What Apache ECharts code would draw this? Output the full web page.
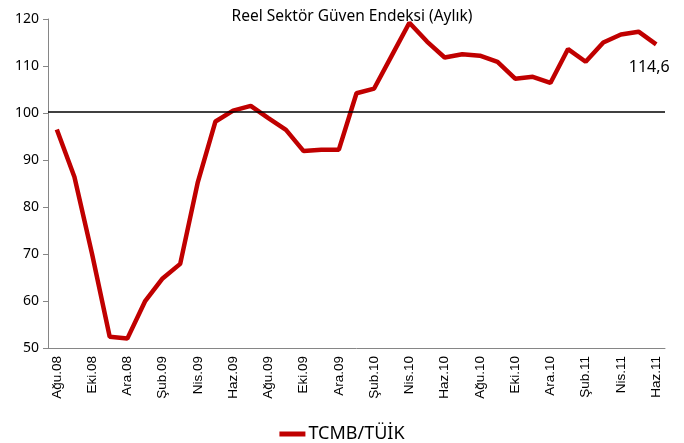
<html>
<head>
<meta charset="utf-8">
<script src="https://cdn.jsdelivr.net/npm/echarts@6/dist/echarts.min.js"></script>
</head>
<body style="margin:0">
<div id="chart" style="width: 684px; height: 443px;"></div>
<script>
var months = ['Ağu.08','Eyl.08','Eki.08','Kas.08','Ara.08','Oca.09','Şub.09','Mar.09','Nis.09','May.09','Haz.09','Tem.09',
    'Ağu.09','Eyl.09','Eki.09','Kas.09','Ara.09','Oca.10','Şub.10','Mar.10','Nis.10','May.10','Haz.10','Tem.10',
    'Ağu.10','Eyl.10','Eki.10','Kas.10','Ara.10','Oca.11','Şub.11','Mar.11','Nis.11','May.11','Haz.11']
var values = [96.5, 86.4, 70.0, 52.4, 52.0, 59.9, 64.8, 67.9, 85.3, 98.2, 100.5, 101.5,
    98.9, 96.4, 91.9, 92.2, 92.2, 104.2, 105.2, 112.2, 119.2, 115.2, 111.8, 112.5,
    112.2, 110.9, 107.3, 107.7, 106.4, 113.6, 110.9, 115.0, 116.7, 117.3, 114.6]
var refLevel = 100.3

var chart = echarts.init(document.getElementById('chart'))

var last = values.length - 1

var option = {
    animation: false,
    title: {
        text: 'Reel Sektör Güven Endeksi (Aylık)',
        left: 347,
        textAlign: 'center',
        top: 4,
        textStyle: { fontFamily: 'Noto Sans', fontSize: 15.5, fontWeight: 'normal', color: '#000' }
    },
    legend: {
        data: ['TCMB/TÜİK'],
        top: 420,
        left: 'center',
        icon: 'rect',
        itemWidth: 26,
        itemHeight: 5,
        itemGap: 2,
        textStyle: { fontFamily: 'Noto Sans', fontSize: 18, color: '#000', padding: [0, 0, 0, -2] }
    },
    grid: { left: 48, right: 19, top: 19, bottom: 95 },
    xAxis: {
        type: 'category',
        data: months,
        boundaryGap: true,
        axisLine: { lineStyle: { color: '#868686', width: 1 } },
        axisTick: { interval: 1, length: 5, lineStyle: { color: '#868686' } },
        axisLabel: {
            interval: 1,
            rotate: 90,
            margin: 8,
            fontFamily: 'Liberation Sans',
            fontSize: 13.5,
            color: '#000'
        }
    },
    yAxis: {
        type: 'value',
        min: 50,
        max: 120,
        interval: 10,
        splitLine: { show: false },
        axisLine: { show: true, lineStyle: { color: '#868686', width: 1 } },
        axisTick: { show: true, length: 5, lineStyle: { color: '#868686' } },
        axisLabel: { fontFamily: 'Noto Sans', fontSize: 14, color: '#000', margin: 9 }
    },
    series: [{
        name: 'TCMB/TÜİK',
        type: 'line',
        data: values,
        symbol: 'none',
        lineStyle: { color: '#C00000', width: 4.5 },
        itemStyle: { color: '#C00000' },
        markLine: {
            silent: true,
            symbol: 'none',
            label: { show: false },
            lineStyle: { color: '#000', type: 'solid', width: 1.5 },
            data: [{ yAxis: refLevel }]
        },
        markPoint: {
            silent: true,
            symbol: 'circle',
            symbolSize: 0,
            data: [{ coord: [last, values[last]] }],
            label: {
                show: true,
                offset: [-7, 23],
                formatter: function () { return String(values[last]).replace('.', ',') },
                fontFamily: 'Noto Sans',
                fontSize: 16,
                color: '#000'
            }
        }
    }]
}
chart.setOption(option)
</script>
</body>
</html>
